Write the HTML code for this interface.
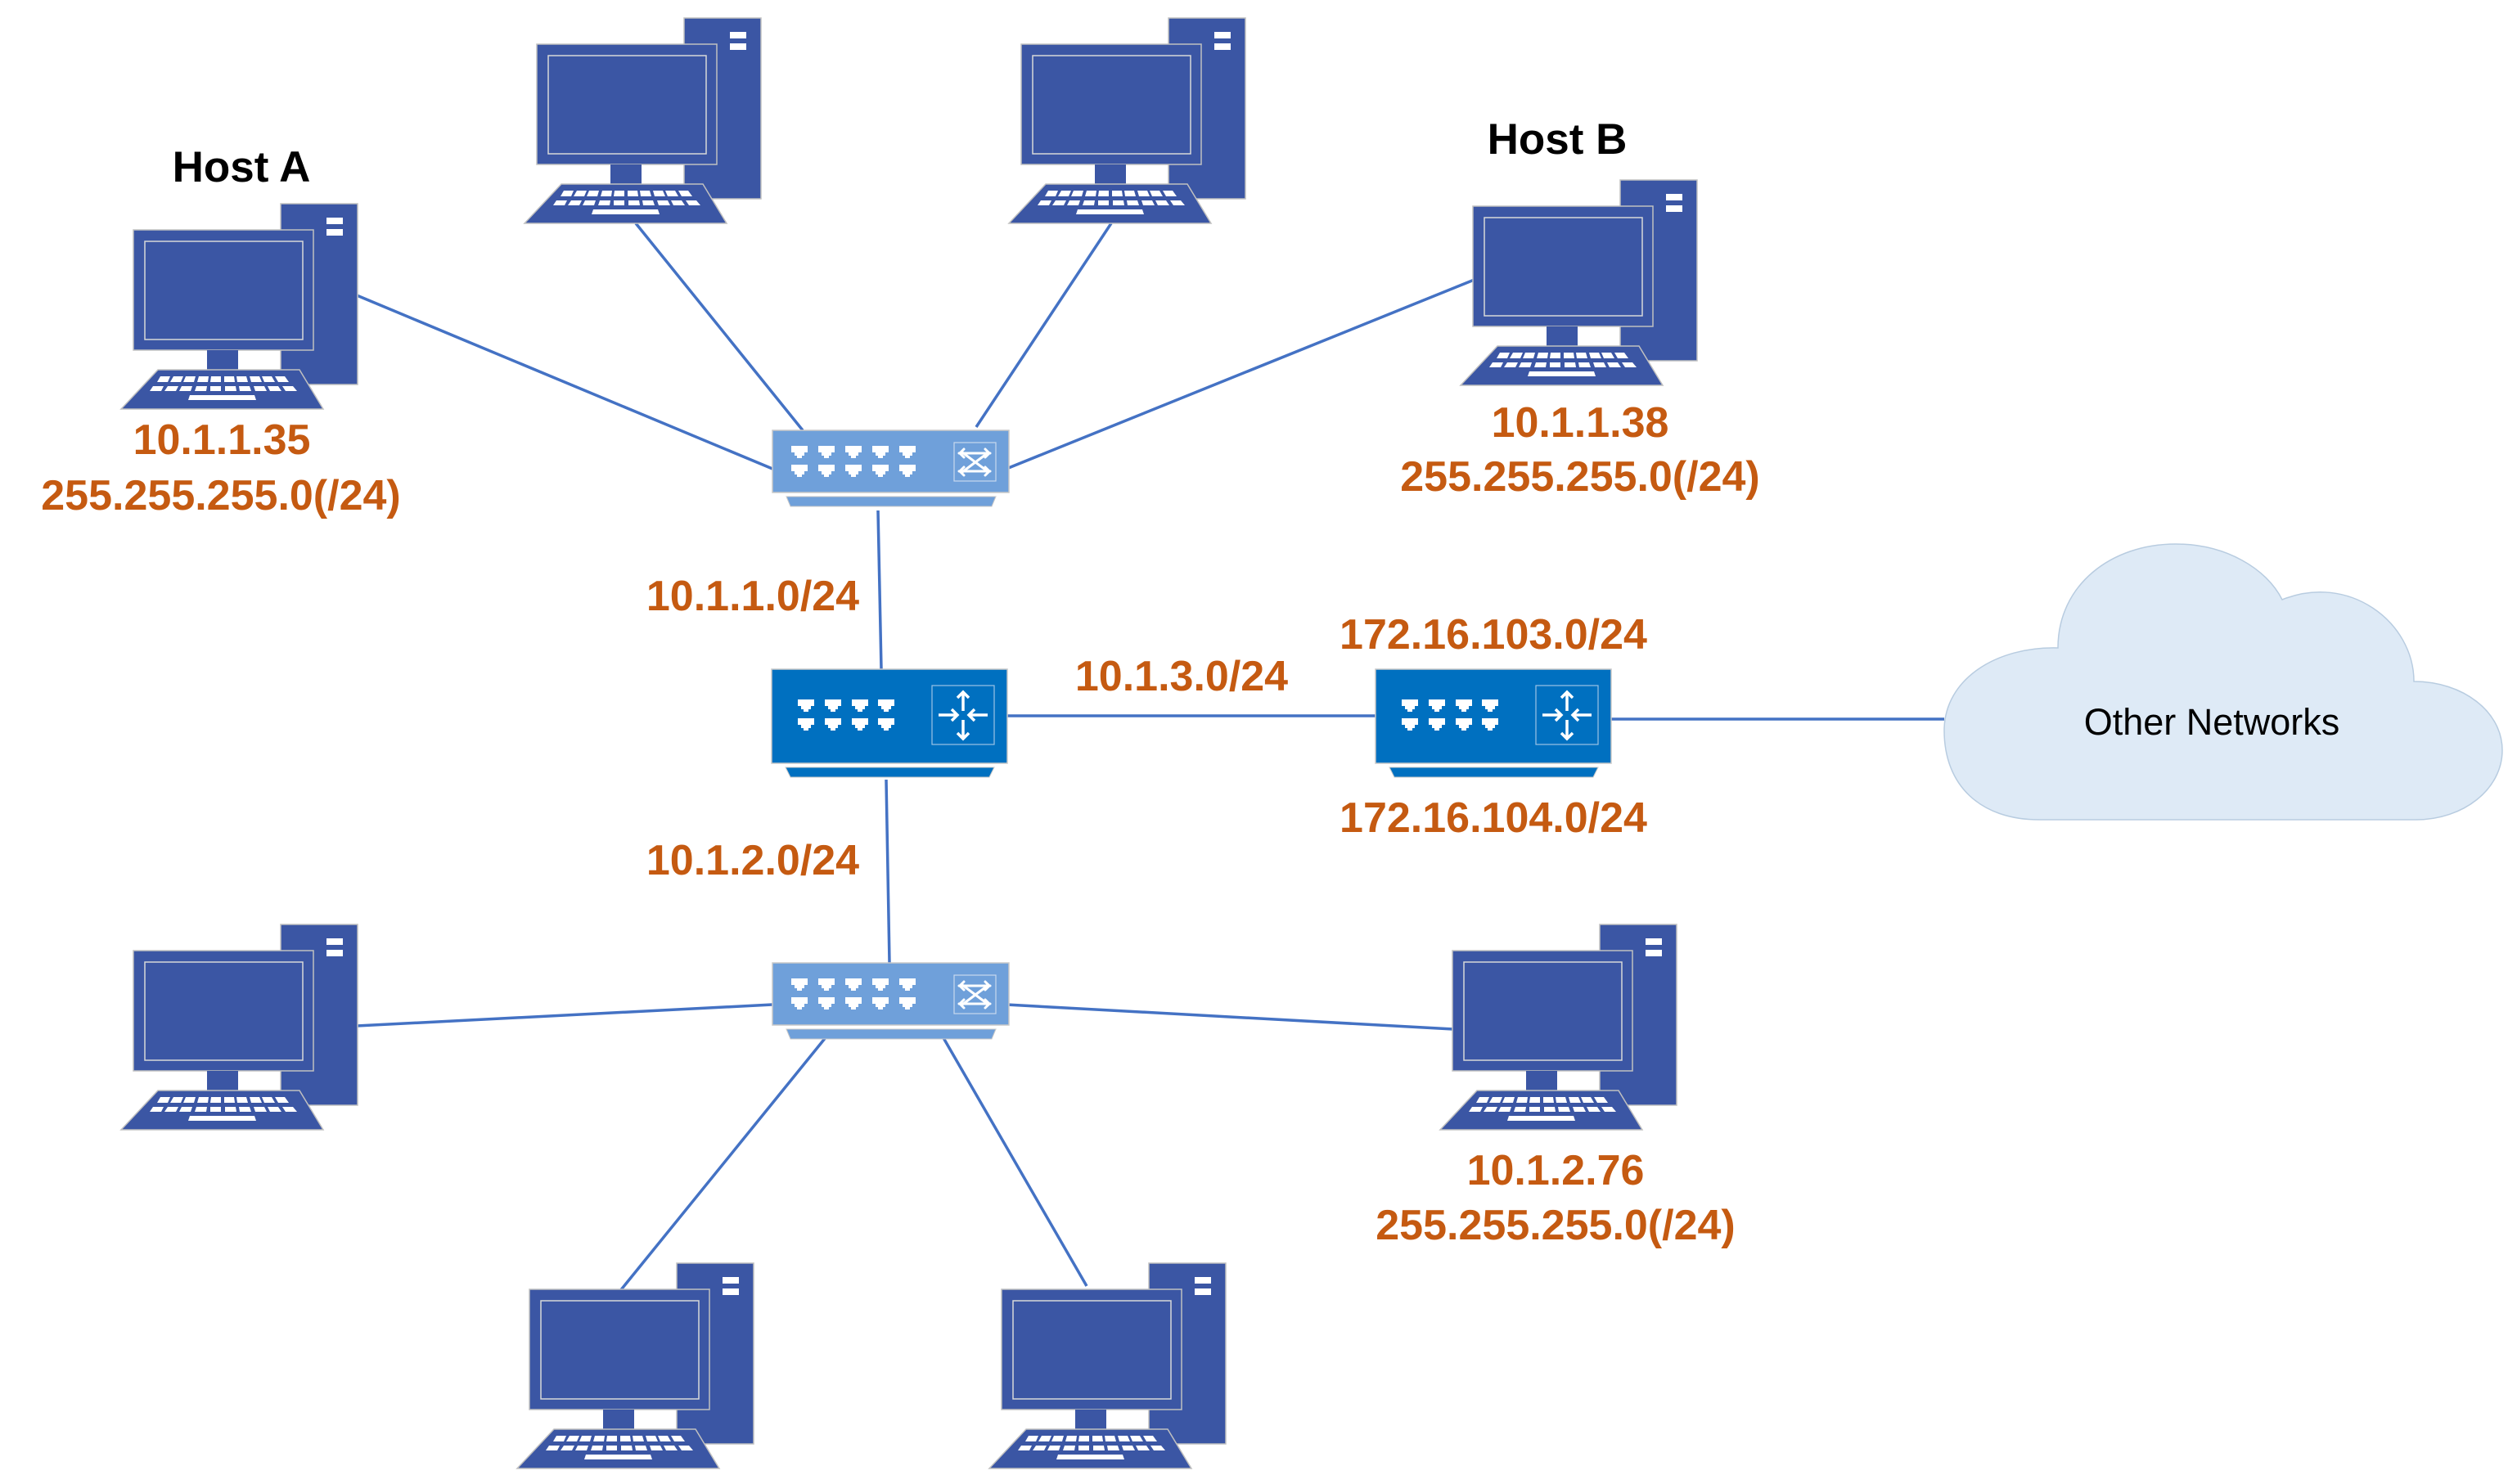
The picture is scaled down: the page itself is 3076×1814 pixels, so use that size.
<!DOCTYPE html>
<html><head><meta charset="utf-8"><style>
html,body{margin:0;padding:0;background:#fff;}
svg{display:block;}
.o{font-family:"Liberation Sans",sans-serif;font-weight:bold;font-size:52px;fill:#C55A11;text-anchor:middle;}
.h{font-family:"Liberation Sans",sans-serif;font-weight:bold;font-size:53px;fill:#000;text-anchor:middle;}
</style></head><body>
<svg width="3076" height="1814" viewBox="0 0 3076 1814" xmlns="http://www.w3.org/2000/svg">
<defs>
<g id="pc">
  <rect x="195" y="0" width="94" height="221" fill="#3B56A4" stroke="#C0C0C0" stroke-width="1.5"/>
  <rect x="251" y="17" width="20" height="8" fill="#fff"/>
  <rect x="251" y="31" width="20" height="8" fill="#fff"/>
  <rect x="15" y="32" width="220" height="147" fill="#3B56A4" stroke="#C0C0C0" stroke-width="1.5"/>
  <rect x="29" y="46" width="193" height="120" fill="#3B56A4" stroke="#D8D8D8" stroke-width="1.5"/>
  <rect x="105" y="179" width="38" height="24" fill="#3B56A4"/>
  <polygon points="45,203 218,203 247,251 0,251" fill="#3B56A4" stroke="#C0C0C0" stroke-width="1.5"/>
  <g fill="#fff">
    <polygon points="48,211 60,211 57,218 44,218"/><polygon points="64,211 76,211 73,218 60,218"/>
    <polygon points="79,211 91,211 89,218 76,218"/><polygon points="95,211 107,211 106,218 93,218"/>
    <polygon points="110,211 122,211 122,218 109,218"/><polygon points="126,211 138,211 139,218 126,218"/>
    <polygon points="141,211 153,211 155,218 142,218"/><polygon points="157,211 169,211 172,218 159,218"/>
    <polygon points="172,211 184,211 188,218 175,218"/><polygon points="188,211 200,211 205,218 192,218"/>
    <polygon points="39,223 52,223 49,229 35,229"/><polygon points="57,223 70,223 67,229 53,229"/>
    <polygon points="74,223 87,223 85,229 71,229"/><polygon points="92,223 105,223 104,229 90,229"/>
    <polygon points="109,223 122,223 122,229 109,229"/><polygon points="127,223 140,223 141,229 127,229"/>
    <polygon points="144,223 157,223 159,229 145,229"/><polygon points="162,223 175,223 178,229 164,229"/>
    <polygon points="179,223 192,223 196,229 182,229"/><polygon points="197,223 210,223 215,229 201,229"/>
    <polygon points="84,234 163,234 165,240 82,240"/>
  </g>
</g>
<path id="port" d="M0,0 h20 v8 h-4 v4 h-3 v3 h-6 v-3 h-3 v-4 h-4 z" fill="#fff"/>
<g id="sw">
  <rect x="0" y="0" width="289" height="76" fill="#6FA0DA" stroke="#C8C8C8" stroke-width="1.5"/>
  <polygon points="17,81 273,81 268,93 22,93" fill="#6FA0DA" stroke="#C8C8C8" stroke-width="1"/>
  <use href="#port" x="23" y="19"/><use href="#port" x="56" y="19"/><use href="#port" x="89" y="19"/><use href="#port" x="122" y="19"/><use href="#port" x="155" y="19"/>
  <use href="#port" x="23" y="42"/><use href="#port" x="56" y="42"/><use href="#port" x="89" y="42"/><use href="#port" x="122" y="42"/><use href="#port" x="155" y="42"/>
  <rect x="222" y="15" width="51" height="47" fill="none" stroke="#C8D8EE" stroke-width="1.2"/>
  <g stroke="#fff" stroke-width="3" fill="none" stroke-linecap="round">
    <path d="M232,27 L264,51 M232,51 L264,27"/>
    <path d="M228,28 h38 M228,50 h38"/>
    <path d="M234,23 l-5,5 l5,5 M260,23 l5,5 l-5,5 M234,45 l-5,5 l5,5 M260,45 l5,5 l-5,5"/>
  </g>
</g>
<g id="rt">
  <rect x="0" y="0" width="288" height="115" fill="#0070C0" stroke="#C8C8C8" stroke-width="1.5"/>
  <polygon points="17,120 272,120 266,132 23,132" fill="#0070C0" stroke="#C8C8C8" stroke-width="1"/>
  <use href="#port" x="32" y="37"/><use href="#port" x="65" y="37"/><use href="#port" x="98" y="37"/><use href="#port" x="130" y="37"/>
  <use href="#port" x="32" y="60"/><use href="#port" x="65" y="60"/><use href="#port" x="98" y="60"/><use href="#port" x="130" y="60"/>
  <rect x="196" y="20" width="76" height="72" fill="none" stroke="#9DC3E6" stroke-width="1.2"/>
  <g stroke="#fff" stroke-width="3.5" fill="none">
    <path d="M234,28 v23 M227,35 l7,-7 l7,7"/>
    <path d="M234,62 v23 M227,78 l7,7 l7,-7"/>
    <path d="M204,56 h23 M220,49 l7,7 l-7,7"/>
    <path d="M264,56 h-23 M248,49 l-7,7 l7,7"/>
  </g>
</g>
</defs>

<g stroke="#4472C4" stroke-width="3.5" fill="none">
  <line x1="436" y1="361" x2="944" y2="573"/>
  <line x1="777" y1="273" x2="981" y2="526"/>
  <line x1="1358" y1="273" x2="1193" y2="522"/>
  <line x1="1809" y1="339" x2="1230" y2="573"/>
  <line x1="1073" y1="624" x2="1077" y2="818"/>
  <line x1="1231" y1="875" x2="1681" y2="875"/>
  <line x1="1969" y1="879" x2="2376" y2="879"/>
  <line x1="1083" y1="953" x2="1087" y2="1177"/>
  <line x1="436" y1="1254" x2="944" y2="1228"/>
  <line x1="1230" y1="1228" x2="1776" y2="1258"/>
  <line x1="1010" y1="1267" x2="757" y2="1579"/>
  <line x1="1152" y1="1267" x2="1328" y2="1572"/>
</g>

<use href="#pc" x="148" y="249"/>
<use href="#pc" x="641" y="22"/>
<use href="#pc" x="1233" y="22"/>
<use href="#pc" x="1785" y="220"/>
<use href="#pc" x="148" y="1130"/>
<use href="#pc" x="1760" y="1130"/>
<use href="#pc" x="632" y="1544"/>
<use href="#pc" x="1209" y="1544"/>

<use href="#sw" x="944" y="526"/>
<use href="#sw" x="944" y="1177"/>
<use href="#rt" x="943" y="818"/>
<use href="#rt" x="1681" y="818"/>

<path d="M2492,1002 C2420,1002 2376,960 2376,893 C2376,830 2440,790 2515,792 C2515,715 2580,665 2659,665 C2720,665 2770,695 2789,733 C2870,700 2950,760 2950,833 C3010,833 3058,870 3058,917 C3058,965 3010,1002 2953,1002 Z" fill="#DEEAF6" stroke="#B8CCE0" stroke-width="1.5"/>
<text x="2703" y="898" font-family="Liberation Sans, sans-serif" font-size="45" fill="#000" text-anchor="middle">Other Networks</text>

<text class="h" x="295" y="222">Host A</text>
<text class="h" x="1903" y="188">Host B</text>
<text class="o" x="271" y="555">10.1.1.35</text>
<text class="o" x="270" y="623">255.255.255.0(/24)</text>
<text class="o" x="1931" y="534">10.1.1.38</text>
<text class="o" x="1931" y="600">255.255.255.0(/24)</text>
<text class="o" x="920" y="746">10.1.1.0/24</text>
<text class="o" x="1444" y="844">10.1.3.0/24</text>
<text class="o" x="1825" y="793">172.16.103.0/24</text>
<text class="o" x="1825" y="1017">172.16.104.0/24</text>
<text class="o" x="920" y="1069">10.1.2.0/24</text>
<text class="o" x="1901" y="1448">10.1.2.76</text>
<text class="o" x="1901" y="1515">255.255.255.0(/24)</text>
</svg>
</body></html>
